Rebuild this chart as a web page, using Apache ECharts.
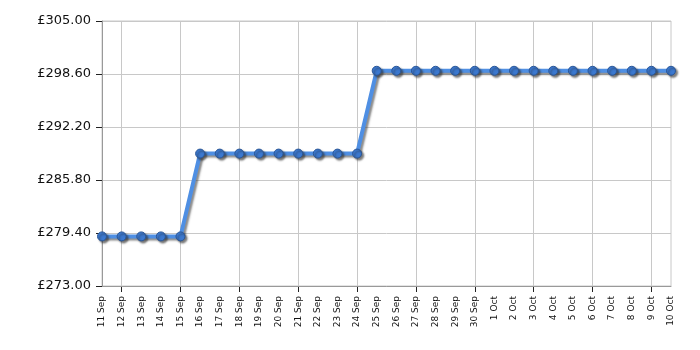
<!DOCTYPE html>
<html>
<head>
<meta charset="utf-8">
<script src="https://cdn.jsdelivr.net/npm/echarts@6/dist/echarts.min.js"></script>
<style>html,body{margin:0;padding:0;background:#fff;overflow:hidden}#c{width:720px;height:350px}</style>
</head>
<body>
<div id="c"></div>
<script>
const categories = ['11 Sep','12 Sep','13 Sep','14 Sep','15 Sep','16 Sep','17 Sep','18 Sep','19 Sep','20 Sep','21 Sep','22 Sep','23 Sep','24 Sep','25 Sep','26 Sep','27 Sep','28 Sep','29 Sep','30 Sep','1 Oct','2 Oct','3 Oct','4 Oct','5 Oct','6 Oct','7 Oct','8 Oct','9 Oct','10 Oct'];
const prices = [278.99,278.99,278.99,278.99,278.99,288.99,288.99,288.99,288.99,288.99,288.99,288.99,288.99,288.99,298.99,298.99,298.99,298.99,298.99,298.99,298.99,298.99,298.99,298.99,298.99,298.99,298.99,298.99,298.99,298.99];
const yMin = 273, yMax = 305, yStep = 6.4;

// Plot box (container is 720 wide; only 0..700 is visible)
const CW = 720, L = 102, PR = 671, T = 21, B = 64;
const step = (PR - L) / (categories.length - 1);
// Helper axis (reversed, two padding slots past the right edge, off-screen) so that
// every 3rd tick lands on 12 Sep, 15 Sep, ... 9 Oct using a plain numeric interval.
const pad = [' ', '  '];
const gridCats = pad.concat(categories.slice().reverse());

const chart = echarts.init(document.getElementById('c'), null, {renderer:'canvas'});
chart.setOption({
  animation: false,
  grid: [
    {left: L, right: CW - PR, top: T, bottom: B, show: true, borderColor: '#c8c8c8', borderWidth: 1, z: 0},
    {left: L, right: CW - PR - pad.length * step, top: T, bottom: B, show: false}
  ],
  xAxis: [{
    type: 'category', data: categories, boundaryGap: false, gridIndex: 0,
    axisLine: {lineStyle: {color: '#999', width: 1}},
    axisTick: {show: false},
    axisLabel: {interval: 0, rotate: 90, fontFamily: 'DejaVu Sans', fontSize: 9, color: '#111', margin: 10},
    splitLine: {show: false}, z: 3
  }, {
    type: 'category', data: gridCats, boundaryGap: false, gridIndex: 1, inverse: true,
    axisLine: {show: false},
    axisTick: {show: true, interval: 2, length: 6, lineStyle: {color: '#222'}},
    axisLabel: {show: false},
    splitLine: {show: true, interval: 2, lineStyle: {color: '#c8c8c8', width: 1}}
  }],
  yAxis: [{
    type: 'value', min: yMin, max: yMax, interval: yStep, gridIndex: 0,
    axisLine: {show: true, lineStyle: {color: '#999', width: 1}},
    axisTick: {show: true, length: 6, lineStyle: {color: '#222'}},
    axisLabel: {fontFamily: 'DejaVu Sans', fontSize: 13, color: '#111', margin: 11,
      formatter: v => '£' + v.toFixed(2)},
    splitLine: {show: true, lineStyle: {color: '#c8c8c8', width: 1}}, z: 3
  }, {
    type: 'value', min: 0, max: 1, gridIndex: 1, show: false
  }],
  series: [{
    type: 'line', data: prices, xAxisIndex: 0, yAxisIndex: 0, symbol: 'circle', symbolSize: 9, z: 5,
    lineStyle: {color: '#4f8fe3', width: 4, shadowColor: 'rgba(60,60,60,0.6)', shadowBlur: 2, shadowOffsetX: 2, shadowOffsetY: 2},
    itemStyle: {color: '#3b78cf', borderColor: '#2a5696', borderWidth: 1, shadowColor: 'rgba(40,40,40,0.6)', shadowBlur: 2, shadowOffsetX: 2, shadowOffsetY: 2}
  }]
});
</script>
</body>
</html>
